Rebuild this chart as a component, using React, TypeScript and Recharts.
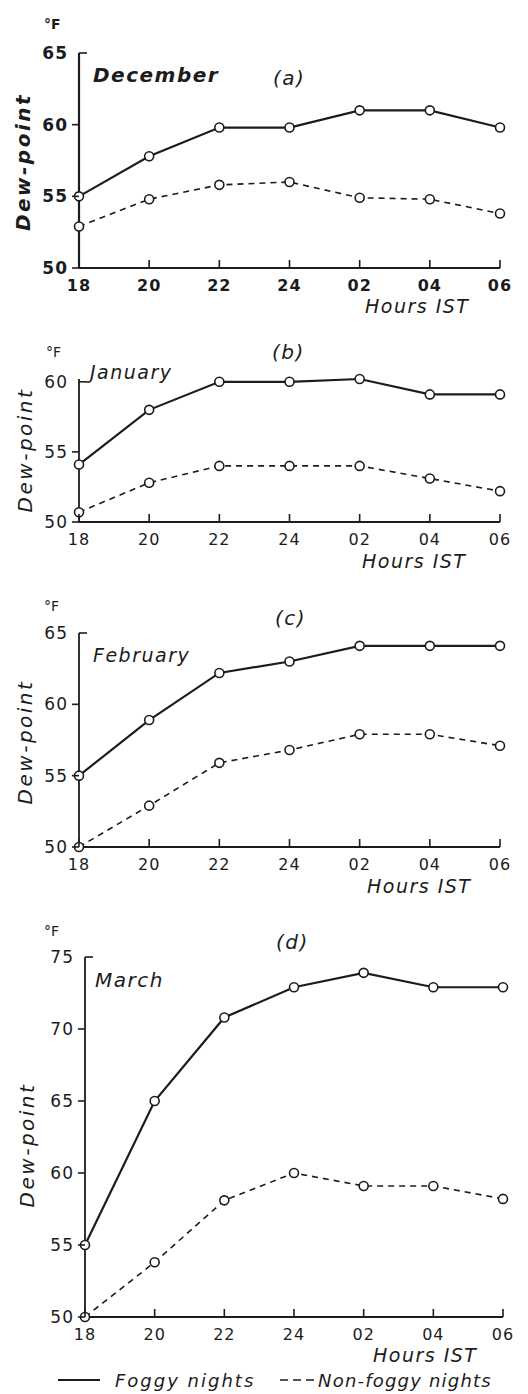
import React from "react";
import { LineChart, Line, XAxis, YAxis } from "recharts";

const hours = ["18", "20", "22", "24", "02", "04", "06"];

const decFoggy = [55, 57.8, 59.8, 59.8, 61.0, 61.0, 59.8];
const decNonFoggy = [52.9, 54.8, 55.8, 56.0, 54.9, 54.8, 53.8];
const janFoggy = [54.1, 58.0, 60.0, 60.0, 60.2, 59.1, 59.1];
const janNonFoggy = [50.7, 52.8, 54.0, 54.0, 54.0, 53.1, 52.2];
const febFoggy = [55, 58.9, 62.2, 63.0, 64.1, 64.1, 64.1];
const febNonFoggy = [50, 52.9, 55.9, 56.8, 57.9, 57.9, 57.1];
const marFoggy = [55, 65.0, 70.8, 72.9, 73.9, 72.9, 72.9];
const marNonFoggy = [50, 53.8, 58.1, 60.0, 59.1, 59.1, 58.2];

const ticksDec = [50, 55, 60, 65];
const ticksJan = [50, 55, 60];
const ticksFeb = [50, 55, 60, 65];
const ticksMar = [50, 55, 60, 65, 70, 75];

const INK = "#1c1c1c";
const FONT = "'DejaVu Sans', sans-serif";

const XTick = (p: any) => (
  <g>
    <line x1={p.x} y1={p.y} x2={p.x} y2={p.y - 8} stroke={INK} strokeWidth={1.6} />
    <text x={p.x} y={p.y + 17} textAnchor="middle" dominantBaseline="central" fontSize={16}
      fontWeight={p.bold ? 700 : 400} fill={INK} fontFamily={FONT} letterSpacing={1}>
      {p.payload.value}
    </text>
  </g>
);

const YTick = (p: any) => {
  const isTop = p.payload.value === p.top;
  return (
    <g>
      <line x1={isTop ? p.x + 8 : p.x - 7} y1={p.y} x2={p.x} y2={p.y} stroke={INK} strokeWidth={1.6} />
      <text x={p.x - 11} y={p.y} textAnchor="end" dominantBaseline="central" fontSize={17}
        fontWeight={p.bold ? 700 : 400} fill={INK} fontFamily={FONT} letterSpacing={1}>
        {p.payload.value}
      </text>
    </g>
  );
};

type PanelProps = {
  top: number; plotTop: number; plotBottom: number; left: number; right: number;
  ticks: number[]; foggy: number[]; nonFoggy: number[]; bold?: boolean;
};

const Panel = ({ top, plotTop, plotBottom, left, right, ticks, foggy, nonFoggy, bold }: PanelProps) => {
  const data = hours.map((h, i) => ({ hour: h, foggy: foggy[i], nonFoggy: nonFoggy[i] }));
  const lo = ticks[0];
  const hi = ticks[ticks.length - 1];
  const dot = { r: 4.5, fill: "#fff", stroke: INK, strokeWidth: 1.6, strokeDasharray: "none" };
  return (
    <div style={{ position: "absolute", top, left: 0 }}>
      <LineChart width={528} height={plotBottom + 30 - top} data={data}
        margin={{ top: plotTop - top, right: 528 - right, left: 0, bottom: 0 }}>
        <XAxis dataKey="hour" height={30} interval={0} tickSize={0} tickMargin={0} tickLine={false}
          axisLine={{ stroke: INK, strokeWidth: bold ? 2.2 : 1.8 }}
          tick={(p: any) => <XTick {...p} bold={bold} />} />
        <YAxis width={left} type="number" domain={[lo, hi]} ticks={ticks} interval={0}
          tickSize={0} tickMargin={0} tickLine={false}
          axisLine={{ stroke: INK, strokeWidth: bold ? 2.2 : 1.8 }}
          tick={(p: any) => <YTick {...p} bold={bold} top={hi} />} />
        <Line dataKey="nonFoggy" stroke={INK} strokeWidth={1.6} strokeDasharray="6 5"
          dot={dot} isAnimationActive={false} />
        <Line dataKey="foggy" stroke={INK} strokeWidth={2.2} dot={dot} isAnimationActive={false} />
      </LineChart>
    </div>
  );
};

const Txt = ({ x, y, children, size = 19, bold = false, italic = true, spacing = 1.5 }: any) => (
  <div style={{
    position: "absolute", left: x, top: y, transform: "translateY(-50%)", whiteSpace: "nowrap",
    fontFamily: FONT, fontSize: size, fontWeight: bold ? 700 : 400, fontStyle: italic ? "italic" : "normal",
    letterSpacing: spacing, lineHeight: 1, color: INK,
  }}>{children}</div>
);

const DewLabel = ({ x, y, bold }: any) => (
  <div style={{
    position: "absolute", left: x, top: y, transform: "translate(-50%, -50%) rotate(-90deg)",
    whiteSpace: "nowrap", fontFamily: FONT, fontSize: 20, fontWeight: bold ? 700 : 400,
    fontStyle: "italic", letterSpacing: 2.5, lineHeight: 1, color: INK,
  }}>Dew-point</div>
);

const Deg = ({ x, y, bold }: any) => (
  <Txt x={x} y={y} size={14} bold={bold} italic={false} spacing={0}>°F</Txt>
);

export default function App() {
  return (
    <div style={{ position: "absolute", top: 0, left: 0, width: 528, height: 1394, background: "#fff", overflow: "hidden" }}>
      <Panel top={0} plotTop={53} plotBottom={268} left={79} right={500} ticks={ticksDec}
        foggy={decFoggy} nonFoggy={decNonFoggy} bold />
      <Panel top={330} plotTop={379} plotBottom={522} left={79} right={500} ticks={ticksJan}
        foggy={janFoggy} nonFoggy={janNonFoggy} />
      <Panel top={590} plotTop={633} plotBottom={847} left={79} right={500} ticks={ticksFeb}
        foggy={febFoggy} nonFoggy={febNonFoggy} />
      <Panel top={910} plotTop={957} plotBottom={1317} left={85} right={503} ticks={ticksMar}
        foggy={marFoggy} nonFoggy={marNonFoggy} />

      <Deg x={44} y={24} bold />
      <Txt x={93} y={75} size={20} bold>December</Txt>
      <Txt x={273} y={78} size={20}>(a)</Txt>
      <DewLabel x={23} y={162} bold />
      <Txt x={365} y={306} size={19}>Hours IST</Txt>

      <Deg x={46} y={352} />
      <Txt x={90} y={372} size={19}>January</Txt>
      <Txt x={272} y={352} size={20}>(b)</Txt>
      <DewLabel x={25} y={450} />
      <Txt x={362} y={561} size={19}>Hours IST</Txt>

      <Deg x={44} y={606} />
      <Txt x={93} y={655} size={19}>February</Txt>
      <Txt x={275} y={618} size={20}>(c)</Txt>
      <DewLabel x={25} y={742} />
      <Txt x={367} y={886} size={19}>Hours IST</Txt>

      <Deg x={44} y={931} />
      <Txt x={95} y={980} size={20}>March</Txt>
      <Txt x={276} y={942} size={20}>(d)</Txt>
      <DewLabel x={27} y={1145} />
      <Txt x={373} y={1355} size={19}>Hours IST</Txt>

      <svg style={{ position: "absolute", left: 0, top: 1370 }} width={528} height={20}>
        <line x1={58} y1={10} x2={100} y2={10} stroke={INK} strokeWidth={2} />
        <line x1={280} y1={10} x2={316} y2={10} stroke={INK} strokeWidth={1.6} strokeDasharray="8 5" />
      </svg>
      <Txt x={115} y={1381} size={18} spacing={2}>Foggy nights</Txt>
      <Txt x={318} y={1381} size={18} spacing={1.2}>Non-foggy nights</Txt>
    </div>
  );
}
